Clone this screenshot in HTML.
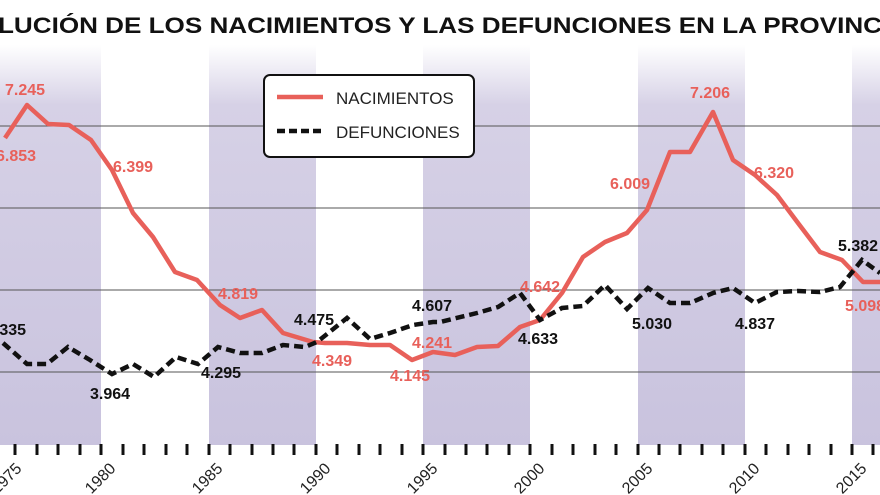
<!DOCTYPE html>
<html><head><meta charset="utf-8"><style>
html,body{margin:0;padding:0;background:#fff;}
svg{display:block;font-family:"Liberation Sans",Arial,sans-serif;}
</style></head><body>
<svg width="880" height="495" viewBox="0 0 880 495" xmlns="http://www.w3.org/2000/svg">
<defs>
<linearGradient id="bg" x1="0" y1="0" x2="0" y2="1">
<stop offset="0" stop-color="#fff"/>
<stop offset="0.15" stop-color="#d6d1e6"/>
<stop offset="1" stop-color="#c9c3de"/>
</linearGradient>
</defs>
<rect width="880" height="495" fill="#fff"/>
<g fill="url(#bg)">
<rect x="0" y="45" width="101" height="400"/>
<rect x="209" y="45" width="107" height="400"/>
<rect x="423" y="45" width="107" height="400"/>
<rect x="638" y="45" width="107" height="400"/>
<rect x="852" y="45" width="28" height="400"/>
</g>
<text x="-2" y="33" font-size="22" font-weight="bold" fill="#111" textLength="884" lengthAdjust="spacingAndGlyphs">LUCIÓN DE LOS NACIMIENTOS Y LAS DEFUNCIONES EN LA PROVINC</text>
<g stroke="#555" stroke-width="1">
<line x1="0" y1="126" x2="880" y2="126"/>
<line x1="0" y1="208" x2="880" y2="208"/>
<line x1="0" y1="290" x2="880" y2="290"/>
<line x1="0" y1="372" x2="880" y2="372"/>
</g>
<g stroke="#111" stroke-width="3">
<line x1="15" y1="444" x2="15" y2="455"/><line x1="37" y1="444" x2="37" y2="455"/><line x1="58" y1="444" x2="58" y2="455"/><line x1="80" y1="444" x2="80" y2="455"/><line x1="101" y1="444" x2="101" y2="455"/>
<line x1="123" y1="444" x2="123" y2="455"/><line x1="144" y1="444" x2="144" y2="455"/><line x1="166" y1="444" x2="166" y2="455"/><line x1="187" y1="444" x2="187" y2="455"/><line x1="209" y1="444" x2="209" y2="455"/>
<line x1="230" y1="444" x2="230" y2="455"/><line x1="252" y1="444" x2="252" y2="455"/><line x1="273" y1="444" x2="273" y2="455"/><line x1="294" y1="444" x2="294" y2="455"/><line x1="316" y1="444" x2="316" y2="455"/>
<line x1="337" y1="444" x2="337" y2="455"/><line x1="359" y1="444" x2="359" y2="455"/><line x1="380" y1="444" x2="380" y2="455"/><line x1="402" y1="444" x2="402" y2="455"/><line x1="423" y1="444" x2="423" y2="455"/>
<line x1="445" y1="444" x2="445" y2="455"/><line x1="466" y1="444" x2="466" y2="455"/><line x1="487" y1="444" x2="487" y2="455"/><line x1="509" y1="444" x2="509" y2="455"/><line x1="530" y1="444" x2="530" y2="455"/>
<line x1="552" y1="444" x2="552" y2="455"/><line x1="573" y1="444" x2="573" y2="455"/><line x1="595" y1="444" x2="595" y2="455"/><line x1="616" y1="444" x2="616" y2="455"/><line x1="638" y1="444" x2="638" y2="455"/>
<line x1="659" y1="444" x2="659" y2="455"/><line x1="680" y1="444" x2="680" y2="455"/><line x1="702" y1="444" x2="702" y2="455"/><line x1="723" y1="444" x2="723" y2="455"/><line x1="745" y1="444" x2="745" y2="455"/>
<line x1="766" y1="444" x2="766" y2="455"/><line x1="788" y1="444" x2="788" y2="455"/><line x1="809" y1="444" x2="809" y2="455"/><line x1="831" y1="444" x2="831" y2="455"/><line x1="852" y1="444" x2="852" y2="455"/>
<line x1="873" y1="444" x2="873" y2="455"/>
</g>
<g font-size="16" fill="#222">
<text transform="translate(10,482) rotate(-45)" text-anchor="middle">1975</text>
<text transform="translate(104,482) rotate(-45)" text-anchor="middle">1980</text>
<text transform="translate(211,482) rotate(-45)" text-anchor="middle">1985</text>
<text transform="translate(319,482) rotate(-45)" text-anchor="middle">1990</text>
<text transform="translate(426,482) rotate(-45)" text-anchor="middle">1995</text>
<text transform="translate(533,482) rotate(-45)" text-anchor="middle">2000</text>
<text transform="translate(641,482) rotate(-45)" text-anchor="middle">2005</text>
<text transform="translate(748,482) rotate(-45)" text-anchor="middle">2010</text>
<text transform="translate(855,482) rotate(-45)" text-anchor="middle">2015</text>
</g>
<polyline fill="none" stroke="#e8605a" stroke-width="4.5" stroke-linejoin="round" points="5,138 27,105 48,124 69,125 91,140 112,170 133,213 153,237 175,272 197,280 220,305 240,318 262,310 283,333 313,342 325,343 347,343 370,345 390,345 412,360 433,352 455,355 477,347 498,346 520,327 540,320 562,293 583,257 605,242 627,233 647,210 670,152 690,152 713,112 733,160 755,175 777,195 798,223 820,252 842,260 863,282 880,282"/>
<polyline fill="none" stroke="#111" stroke-width="4.5" stroke-dasharray="9,5" points="3,343 27,364 47,364 68,347 90,360 112,374 133,364 154,377 176,357 198,364 218,347 240,353 262,353 283,345 305,347 317,342 347,318 370,339 390,333 413,325 433,322 440,322 477,313 498,307 520,293 540,320 562,308 583,306 605,285 627,309 648,288 670,303 690,303 713,293 733,288 755,303 777,292 798,291 820,292 840,287 862,260 880,273"/>
<g font-size="16" font-weight="bold" fill="#e8605a">
<text x="5" y="95">7.245</text>
<text x="-4" y="161">6.853</text>
<text x="113" y="172">6.399</text>
<text x="218" y="299">4.819</text>
<text x="312" y="366">4.349</text>
<text x="390" y="381">4.145</text>
<text x="412" y="348">4.241</text>
<text x="520" y="292">4.642</text>
<text x="610" y="189">6.009</text>
<text x="690" y="98">7.206</text>
<text x="754" y="178">6.320</text>
<text x="845" y="311">5.098</text>
</g>
<g font-size="16" font-weight="bold" fill="#111">
<text x="-14" y="335">4.335</text>
<text x="90" y="399">3.964</text>
<text x="201" y="378">4.295</text>
<text x="294" y="325">4.475</text>
<text x="412" y="311">4.607</text>
<text x="518" y="344">4.633</text>
<text x="632" y="329">5.030</text>
<text x="735" y="329">4.837</text>
<text x="838" y="251">5.382</text>
</g>
<rect x="264" y="75" width="210" height="82" rx="6" fill="#fff" stroke="#111" stroke-width="2"/>
<line x1="277" y1="97" x2="323" y2="97" stroke="#e8605a" stroke-width="4.5"/>
<line x1="277" y1="131" x2="323" y2="131" stroke="#111" stroke-width="4.5" stroke-dasharray="8,4"/>
<text x="336" y="104" font-size="17" fill="#222">NACIMIENTOS</text>
<text x="336" y="138" font-size="17" fill="#222">DEFUNCIONES</text>
</svg>
</body></html>
